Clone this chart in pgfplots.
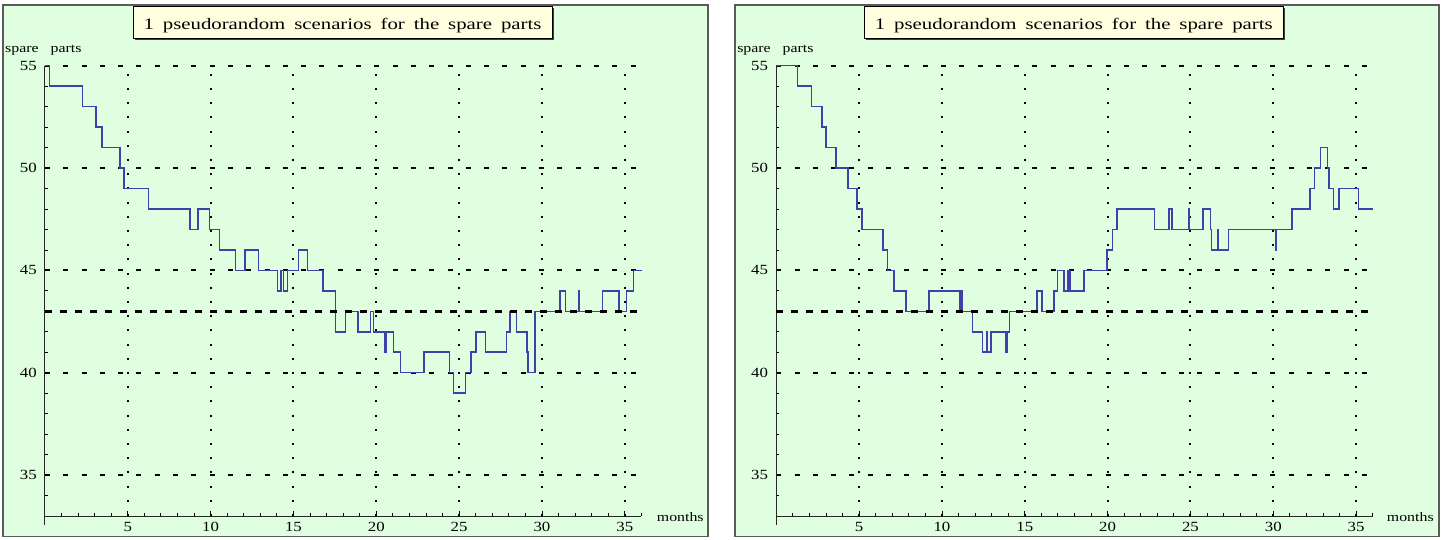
\documentclass[border=0pt]{standalone}
\usepackage{fontspec}
\setmainfont{Liberation Serif}
\usepackage{pgfplots}
\usepackage{pgfplotstable}
\pgfplotsset{compat=1.18}

\definecolor{panelbg}{RGB}{224,255,224}
\definecolor{titlebg}{RGB}{255,255,224}
\definecolor{runblue}{RGB}{64,64,168}
\definecolor{framegray}{RGB}{90,90,90}

% month at which a new stock level starts, and that level
\pgfplotstableread{
x y
0 55
0.27 54
2.28 53
3.07 52
3.46 51
4.53 50
4.77 49
6.24 48
8.77 47
9.24 48
9.92 47
10.55 46
11.49 45
12.08 46
12.88 45
14.03 44
14.25 45
14.39 44
14.65 45
15.32 46
15.84 45
16.77 44
17.53 42
18.15 43
18.91 42
19.66 43
19.82 42
20.54 41
20.60 42
21.05 41
21.47 40
22.88 41
24.41 40
24.65 39
25.37 40
25.72 41
26.02 42
26.60 41
27.85 42
28.07 43
28.45 42
29.11 41
29.17 40
29.58 43
31.09 44
31.43 43
32.21 44
32.27 43
33.66 44
34.65 43
35.11 44
35.51 45
36.02 45
}\runA

\pgfplotstableread{
x y
0 55
1.28 54
2.14 53
2.75 52
2.99 51
3.61 50
4.32 49
4.88 48
5.18 47
6.43 46
6.71 45
7.10 44
7.84 43
9.23 44
11.10 43
11.16 44
11.22 43
11.84 42
12.45 41
12.73 42
12.76 41
12.95 42
13.88 41
13.92 42
14.08 43
15.73 44
16.03 43
16.75 44
16.98 45
17.38 44
17.60 45
17.74 44
18.58 45
19.97 46
20.30 47
20.58 48
22.83 47
23.70 48
23.88 47
24.87 48
24.93 47
25.75 48
26.20 47
26.26 46
26.66 47
26.70 46
27.30 47
30.12 46
30.18 47
31.13 48
32.23 49
32.48 50
32.84 51
33.28 50
33.36 49
33.64 48
33.98 49
35.15 48
36.02 48
}\runB

\newcommand\gap{\hspace{0.43em}}

\pgfplotsset{
  scenario/.style={
    scale only axis, width=596.5pt, height=450.3pt,
    anchor=south west, clip=false,
    xmin=0, xmax=36, ymin=33, ymax=55,
    axis lines*=left,
    axis line style={line width=0.9pt, black!85},
    xtick={5,10,...,35}, ytick={35,40,...,55},
    minor xtick={1,...,36}, minor ytick={33,...,55},
    tick align=inside, major tick length=5pt, minor tick length=3pt,
    every tick/.style={black, line width=0.8pt},
    xmajorgrids, ymajorgrids,
    major x grid style={black, line width=2pt, dash pattern=on 2pt off 12.2pt},
    major y grid style={black, line width=1.8pt, dash pattern=on 5pt off 13.3pt},
    /pgf/number format/assume math mode=true,
    ticklabel style={font=\fontsize{14}{15}\selectfont},
    xticklabel style={anchor=center, yshift=-11pt, xscale=1.2},
    yticklabel style={anchor=east, inner sep=0pt, xshift=-8pt, xscale=1.2},
  },
  run/.style={const plot, runblue, line width=1.5pt},
  limit/.style={black, line width=3.3pt, dash pattern=on 7pt off 8pt},
}

\begin{document}
\begin{tikzpicture}[x=1pt, y=1pt]
  \path (0,0) rectangle (1445,540);
  % panel backgrounds
  \draw[framegray, line width=1.3pt, fill=panelbg] (3,3.3) rectangle (708,535);
  \draw[framegray, line width=1.3pt, fill=panelbg] (735,3.3) rectangle (1439,535);

  % left panel
  \begin{axis}[scenario, at={(44.9pt,24pt)}]
    \addplot[run] table[x=x, y=y] {\runA};
    \addplot[limit] coordinates {(0,43) (36,43)};
    \draw[line width=0.9pt, black!85] (axis cs:0,33) -- (axis cs:0,32.56);
  \end{axis}

  % right panel
  \begin{axis}[scenario, at={(776.2pt,24pt)}]
    \addplot[run] table[x=x, y=y] {\runB};
    \addplot[limit] coordinates {(0,43) (36,43)};
    \draw[line width=0.9pt, black!85] (axis cs:0,33) -- (axis cs:0,32.56);
  \end{axis}

  % titles
  \foreach \xl/\xr in {133/552, 864.3/1283.3} {
    \fill[black!75] (\xl+1.5,499.5) rectangle (\xr+1.5,531.8);
    \draw[black, line width=1pt, fill=titlebg] (\xl,501) rectangle (\xr,533.3);
    \node[anchor=base, inner sep=0pt, xscale=1.3, font=\fontsize{16}{18}\selectfont]
      at ({(\xl+\xr)/2},510.7) {1\gap pseudorandom\gap scenarios\gap for\gap the\gap spare\gap parts};
  }

  % axis captions
  \foreach \x/\m in {5/656.7, 737/1386.7} {
    \node[anchor=base west, inner sep=0pt, xscale=1.22, font=\fontsize{13}{14}\selectfont]
      at (\x,487.7) {spare\hspace{0.75em}parts};
    \node[anchor=base west, inner sep=0pt, xscale=1.22, font=\fontsize{13}{14}\selectfont]
      at (\m,18.3) {months};
  }
\end{tikzpicture}
\end{document}
